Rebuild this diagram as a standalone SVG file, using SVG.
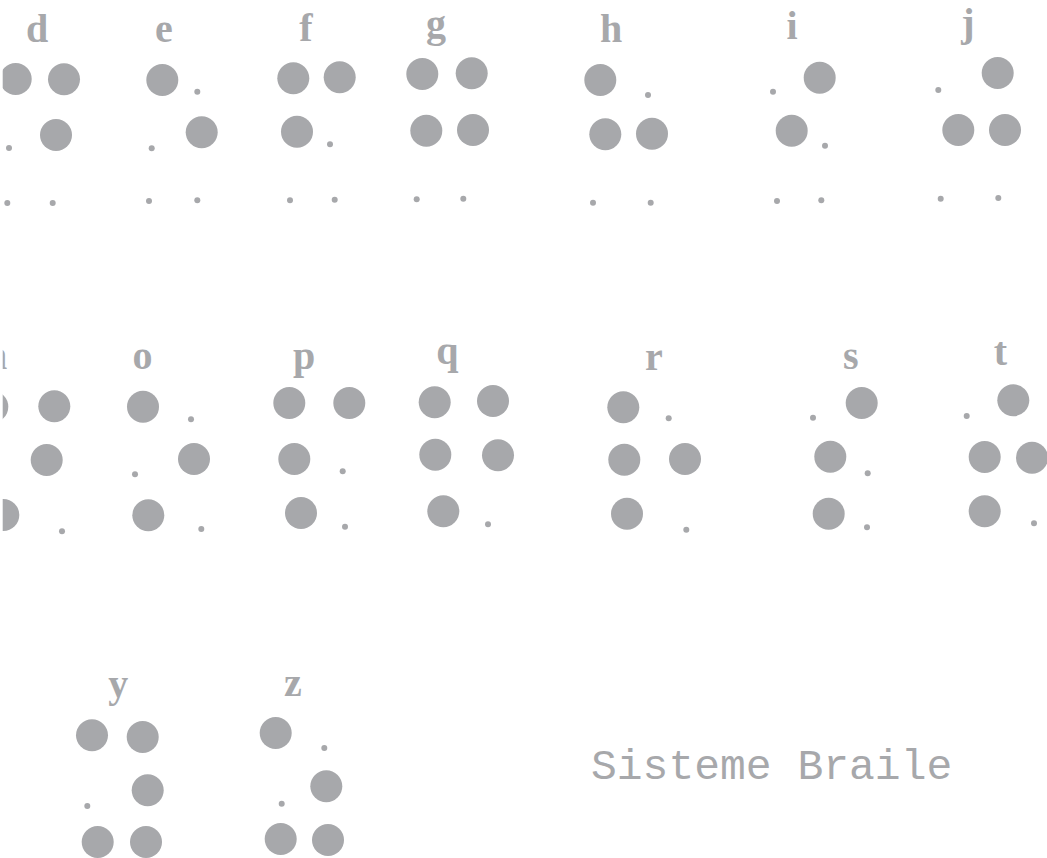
<svg xmlns="http://www.w3.org/2000/svg" width="1047" height="858" viewBox="0 0 1047 858">
<style>
.b{fill:#a7a8ab}
.s{fill:#a7a8ab}
.lbl{font-family:"Liberation Serif","Times New Roman",serif;font-weight:bold;font-size:40px;fill:#a7a8ab;text-anchor:middle}
.title{font-family:"Liberation Mono","DejaVu Sans Mono",monospace;font-size:43px;fill:#a7a8ab}
</style>
<defs>
<clipPath id="edge"><rect x="2.7" y="0" width="1047" height="858"/></clipPath>
</defs>
<rect width="1047" height="858" fill="#ffffff"/>
<g clip-path="url(#edge)">
<g id="letter-d">
<text class="lbl" x="37" y="42">d</text>
<circle class="b" cx="15.7" cy="79" r="16"/><circle class="b" cx="64" cy="79.3" r="16"/>
<circle class="s" cx="9" cy="148" r="3"/><circle class="b" cx="56" cy="135" r="16"/>
<circle class="s" cx="7.3" cy="203" r="3"/><circle class="s" cx="52.7" cy="203" r="3"/>
</g>
<g id="letter-e">
<text class="lbl" x="164" y="42">e</text>
<circle class="b" cx="162.3" cy="80" r="16"/><circle class="s" cx="197.3" cy="91.7" r="3"/>
<circle class="s" cx="151.7" cy="148.3" r="3"/><circle class="b" cx="201.7" cy="132.3" r="16"/>
<circle class="s" cx="149" cy="201" r="3"/><circle class="s" cx="197.3" cy="200.3" r="3"/>
</g>
<g id="letter-f">
<text class="lbl" x="306" y="41">f</text>
<circle class="b" cx="293.3" cy="78.3" r="16"/><circle class="b" cx="339.7" cy="77.3" r="16"/>
<circle class="b" cx="297" cy="131.7" r="16"/><circle class="s" cx="330" cy="144.3" r="3"/>
<circle class="s" cx="290" cy="200.3" r="3"/><circle class="s" cx="334.7" cy="199.7" r="3"/>
</g>
<g id="letter-g">
<text class="lbl" x="436" y="37">g</text>
<circle class="b" cx="422.3" cy="74" r="16"/><circle class="b" cx="471.7" cy="73.3" r="16"/>
<circle class="b" cx="426.3" cy="130.7" r="16"/><circle class="b" cx="473" cy="130" r="16"/>
<circle class="s" cx="416.7" cy="199.3" r="3"/><circle class="s" cx="463.3" cy="198.7" r="3"/>
</g>
<g id="letter-h">
<text class="lbl" x="611" y="41.7">h</text>
<circle class="b" cx="600.3" cy="80" r="16"/><circle class="s" cx="648" cy="95" r="3"/>
<circle class="b" cx="605.3" cy="134.3" r="16"/><circle class="b" cx="652" cy="133.7" r="16"/>
<circle class="s" cx="593" cy="202.7" r="3"/><circle class="s" cx="650.7" cy="202.7" r="3"/>
</g>
<g id="letter-i">
<text class="lbl" x="792" y="39">i</text>
<circle class="s" cx="773" cy="91.7" r="3"/><circle class="b" cx="819.7" cy="77.7" r="16"/>
<circle class="b" cx="791.7" cy="130.7" r="16"/><circle class="s" cx="825" cy="145.7" r="3"/>
<circle class="s" cx="777" cy="201" r="3"/><circle class="s" cx="821.3" cy="200.3" r="3"/>
</g>
<g id="letter-j">
<text class="lbl" x="968" y="36">j</text>
<circle class="s" cx="938.3" cy="90" r="3"/><circle class="b" cx="997.7" cy="73" r="16"/>
<circle class="b" cx="958.3" cy="130" r="16"/><circle class="b" cx="1005" cy="130" r="16"/>
<circle class="s" cx="940.7" cy="198.7" r="3"/><circle class="s" cx="998.3" cy="198" r="3"/>
</g>
<g id="letter-n">
<text class="lbl" x="-4" y="369">n</text>
<circle class="b" cx="-7.7" cy="406.7" r="16"/><circle class="b" cx="54.3" cy="406.3" r="16"/>
<circle class="b" cx="46.7" cy="460" r="16"/>
<circle class="b" cx="3.3" cy="515" r="16"/><circle class="s" cx="62" cy="531.3" r="3"/>
</g>
<g id="letter-o">
<text class="lbl" x="142.5" y="369">o</text>
<circle class="b" cx="143" cy="406.7" r="16"/><circle class="s" cx="191" cy="419.3" r="3"/>
<circle class="s" cx="135" cy="474.3" r="3"/><circle class="b" cx="194" cy="459" r="16"/>
<circle class="b" cx="148.3" cy="515.3" r="16"/><circle class="s" cx="201.3" cy="529" r="3"/>
</g>
<g id="letter-p">
<text class="lbl" x="304" y="369">p</text>
<circle class="b" cx="289.3" cy="403" r="16"/><circle class="b" cx="349.3" cy="403" r="16"/>
<circle class="b" cx="294.3" cy="459" r="16"/><circle class="s" cx="342.7" cy="471.3" r="3"/>
<circle class="b" cx="301" cy="513" r="16"/><circle class="s" cx="345" cy="526.7" r="3"/>
</g>
<g id="letter-q">
<text class="lbl" x="447.3" y="364">q</text>
<circle class="b" cx="434.7" cy="402.3" r="16"/><circle class="b" cx="493" cy="401" r="16"/>
<circle class="b" cx="435.3" cy="454.7" r="16"/><circle class="b" cx="498" cy="455.3" r="16"/>
<circle class="b" cx="443.3" cy="511.3" r="16"/><circle class="s" cx="488" cy="524.3" r="3"/>
</g>
<g id="letter-r">
<text class="lbl" x="653.8" y="370">r</text>
<circle class="b" cx="623.3" cy="407.3" r="16"/><circle class="s" cx="668.7" cy="418.3" r="3"/>
<circle class="b" cx="624.3" cy="459.7" r="16"/><circle class="b" cx="685" cy="459" r="16"/>
<circle class="b" cx="627" cy="513.7" r="16"/><circle class="s" cx="686.3" cy="529.7" r="3"/>
</g>
<g id="letter-s">
<text class="lbl" x="850.8" y="369">s</text>
<circle class="s" cx="813" cy="417.7" r="3"/><circle class="b" cx="861.7" cy="403" r="16"/>
<circle class="b" cx="830.3" cy="456.7" r="16"/><circle class="s" cx="867.7" cy="473.3" r="3"/>
<circle class="b" cx="828.7" cy="513.7" r="16"/><circle class="s" cx="867" cy="527.3" r="3"/>
</g>
<g id="letter-t">
<text class="lbl" x="1000.3" y="365">t</text>
<circle class="s" cx="966.7" cy="416" r="3"/><circle class="b" cx="1013.3" cy="400.3" r="16"/>
<circle class="b" cx="984.7" cy="457" r="16"/><circle class="b" cx="1032" cy="457.7" r="16"/>
<circle class="b" cx="984.7" cy="511.3" r="16"/><circle class="s" cx="1034" cy="523.3" r="3"/>
</g>
<g id="letter-y">
<text class="lbl" x="118.3" y="697">y</text>
<circle class="b" cx="92" cy="735.3" r="16"/><circle class="b" cx="142.7" cy="737" r="16"/>
<circle class="s" cx="87.3" cy="806" r="3"/><circle class="b" cx="147.7" cy="790.3" r="16"/>
<circle class="b" cx="97.7" cy="842" r="16"/><circle class="b" cx="146" cy="842" r="16"/>
</g>
<g id="letter-z">
<text class="lbl" x="293" y="696">z</text>
<circle class="b" cx="275.7" cy="733" r="16"/><circle class="s" cx="324.3" cy="748" r="3"/>
<circle class="s" cx="281.7" cy="803.7" r="3"/><circle class="b" cx="326.3" cy="786.3" r="16"/>
<circle class="b" cx="280.7" cy="839" r="16"/><circle class="b" cx="328" cy="840" r="16"/>
</g>
<g id="title">
<text class="title" x="591" y="779">Sisteme Braile</text>
</g>
</g>
</svg>
